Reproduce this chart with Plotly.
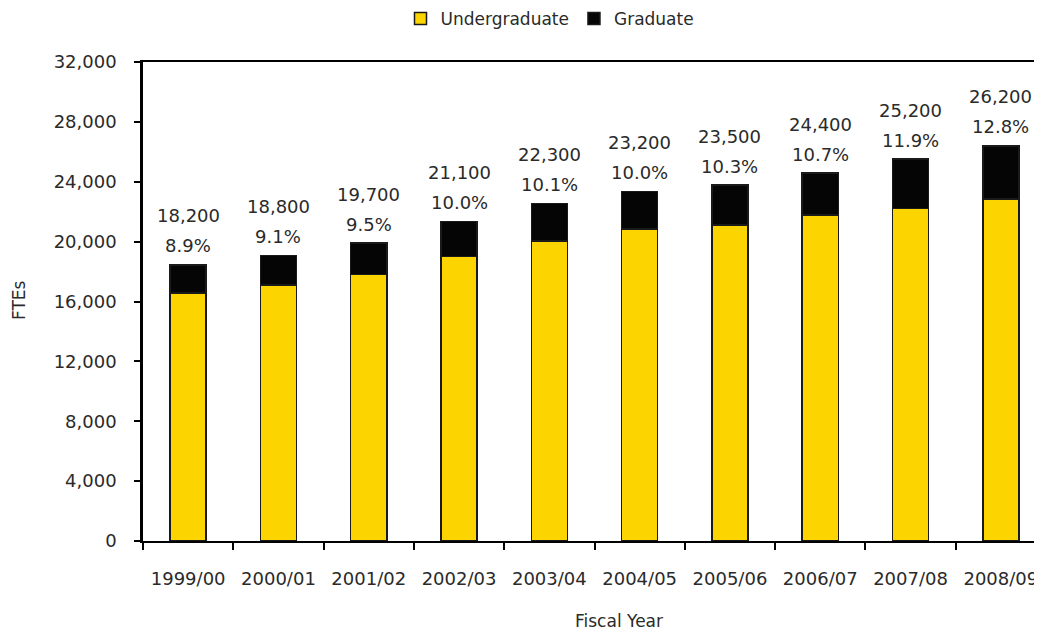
import plotly.graph_objects as go

years = ["1999/00", "2000/01", "2001/02", "2002/03", "2003/04",
         "2004/05", "2005/06", "2006/07", "2007/08", "2008/09"]
undergraduate = [16570, 17115, 17800, 18990, 20055, 20860, 21125, 21775, 22215, 22860]
graduate = [1870, 1960, 2100, 2355, 2495, 2490, 2655, 2805, 3300, 3545]
total_labels = ["18,200", "18,800", "19,700", "21,100", "22,300",
                "23,200", "23,500", "24,400", "25,200", "26,200"]
pct_labels = ["8.9%", "9.1%", "9.5%", "10.0%", "10.1%",
              "10.0%", "10.3%", "10.7%", "11.9%", "12.8%"]
y_ticks = [0, 4000, 8000, 12000, 16000, 20000, 24000, 28000, 32000]

FONT = "DejaVu Sans, Verdana, sans-serif"
TXT = "#2a2a2a"
FS = 18

# page body has an 8px offset; margins compensate so the plot sits at screen (143, 62)-(…, 541)
ML, MT, MB, MR = 135, 54, 98, 0
PW = 1042 - ML - MR   # 907 px plot width
PH = 631 - MT - MB    # 479 px plot height

fig = go.Figure()
fig.add_trace(go.Bar(
    x=years, y=undergraduate, name="Undergraduate",
    marker=dict(color="#FCD500", line=dict(color="#1a1a1a", width=1.5)),
    width=0.4,
))
fig.add_trace(go.Bar(
    x=years, y=graduate, name="Graduate",
    marker=dict(color="#050505", line=dict(color="#1a1a1a", width=1.5)),
    width=0.4,
))

tops = [u + g for u, g in zip(undergraduate, graduate)]
for yr, top, tl, pl in zip(years, tops, total_labels, pct_labels):
    fig.add_annotation(x=yr, y=top, text=tl, showarrow=False, yanchor="middle",
                       yshift=49, font=dict(family=FONT, size=FS, color=TXT))
    fig.add_annotation(x=yr, y=top, text=pl, showarrow=False, yanchor="middle",
                       yshift=19, font=dict(family=FONT, size=FS, color=TXT))

fig.add_annotation(x=(619 - 143) / PW, y=-(621 - 541) / PH, xref="paper", yref="paper",
                   text="Fiscal Year", showarrow=False, xanchor="center", yanchor="middle",
                   font=dict(family=FONT, size=17, color=TXT))
fig.add_annotation(x=(19 - 143) / PW, y=(541 - 300) / PH, xref="paper", yref="paper",
                   text="FTEs", showarrow=False, textangle=-90,
                   xanchor="center", yanchor="middle",
                   font=dict(family=FONT, size=17, color=TXT))

fig.update_layout(
    barmode="stack",
    width=1042, height=631,
    margin=dict(l=ML, r=MR, t=MT, b=MB, autoexpand=False),
    paper_bgcolor="white", plot_bgcolor="white",
    font=dict(family=FONT, size=FS, color=TXT),
    legend=dict(orientation="h", x=(550 - 143) / PW, xanchor="center",
                y=1 + (62 - 19) / PH, yanchor="middle",
                font=dict(family=FONT, size=17, color=TXT), traceorder="normal",
                itemwidth=30),
    showlegend=True,
)
fig.update_xaxes(
    range=[-0.5, -0.5 + PW / 90.3], automargin=False,
    showline=True, linecolor="#000", linewidth=2, mirror=True,
    ticks="outside", ticklen=7, tickcolor="#000", tickwidth=2,
    tickson="boundaries", ticklabelstandoff=20,
    showgrid=False, zeroline=False,
)
fig.update_yaxes(
    range=[0, 32000], tickvals=y_ticks, tickformat=",", automargin=False,
    showline=True, linecolor="#000", linewidth=2.5,
    ticks="outside", ticklen=6, tickcolor="#000", tickwidth=1.5,
    ticklabelstandoff=14,
    showgrid=False, zeroline=False,
)

fig.write_html("out.html")
